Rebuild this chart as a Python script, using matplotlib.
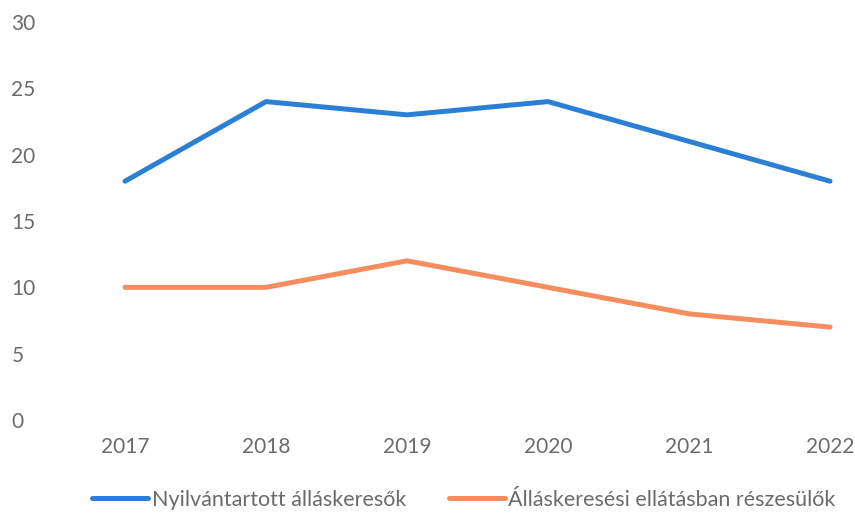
import matplotlib.pyplot as plt

# adatok
evek = ['2017', '2018', '2019', '2020', '2021', '2022']
nyilvantartott = [18, 24, 23, 24, 21, 18]
ellatott = [10, 10, 12, 10, 8, 7]

kek = '#2b80d6'
narancs = '#f58d5f'
szurke = '#6b6b6b'

plt.rcParams['font.family'] = ['Lato', 'DejaVu Sans']

fig = plt.figure(figsize=(8.55, 5.13), dpi=100)
ax = fig.add_axes([60/855, (513-420)/513, (855-60)/855, (420-22)/513])

x = list(range(len(evek)))
ax.plot(x, nyilvantartott, color=kek, lw=3.6, solid_capstyle='round',
        label='Nyilvántartott álláskeresők')
ax.plot(x, ellatott, color=narancs, lw=3.6, solid_capstyle='round',
        label='Álláskeresési ellátásban részesülők')

ax.set_xlim(-0.461, 5.177)
ax.set_ylim(0, 30)
ax.set_yticks(range(0, 31, 5))
ax.set_xticks(x)
ax.set_xticklabels(evek)

for s in ax.spines.values():
    s.set_visible(False)
ax.tick_params(length=0, labelsize=15, labelcolor=szurke)
ax.tick_params(axis='y', pad=35)
ax.tick_params(axis='x', pad=12)
for t in ax.get_yticklabels():
    t.set_horizontalalignment('left')

leg = fig.legend(loc='center', bbox_to_anchor=(464/855, 1 - 500/513), ncol=2,
                 frameon=False, fontsize=15.5, handlelength=2.6, handletextpad=0.15,
                 columnspacing=2.0)
for t in leg.get_texts():
    t.set_color(szurke)

fig.savefig('out.png', dpi=100)
